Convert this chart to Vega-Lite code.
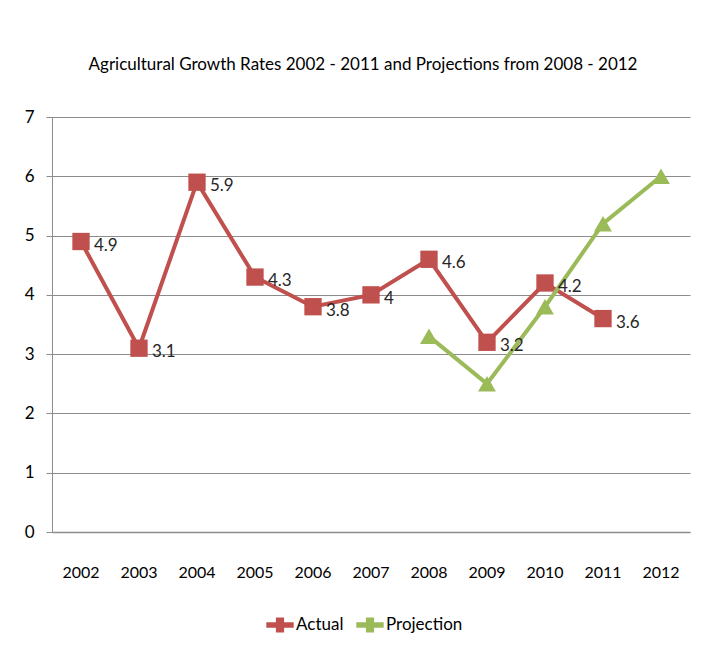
{
  "$schema": "https://vega.github.io/schema/vega-lite/v6.json",
  "width": 638,
  "height": 415,
  "autosize": {"type": "none"},
  "padding": {"left": 52, "top": 117, "right": 11, "bottom": 133},
  "background": "white",
  "title": {
    "text": "Agricultural Growth Rates 2002 - 2011 and Projections from 2008 - 2012",
    "font": "Lato",
    "fontSize": 17,
    "fontWeight": "normal",
    "color": "#000000",
    "anchor": "middle",
    "dx": -8,
    "offset": 34
  },
  "data": {
    "values": [
      {"year": "2002", "series": "Actual", "value": 4.9},
      {"year": "2003", "series": "Actual", "value": 3.1},
      {"year": "2004", "series": "Actual", "value": 5.9},
      {"year": "2005", "series": "Actual", "value": 4.3},
      {"year": "2006", "series": "Actual", "value": 3.8},
      {"year": "2007", "series": "Actual", "value": 4.0},
      {"year": "2008", "series": "Actual", "value": 4.6},
      {"year": "2009", "series": "Actual", "value": 3.2},
      {"year": "2010", "series": "Actual", "value": 4.2},
      {"year": "2011", "series": "Actual", "value": 3.6},
      {"year": "2008", "series": "Projection", "value": 3.3},
      {"year": "2009", "series": "Projection", "value": 2.5},
      {"year": "2010", "series": "Projection", "value": 3.8},
      {"year": "2011", "series": "Projection", "value": 5.2},
      {"year": "2012", "series": "Projection", "value": 6.0}
    ]
  },
  "encoding": {
    "x": {
      "field": "year",
      "type": "ordinal",
      "bandPosition": 0.5,
      "scale": {"type": "band", "paddingInner": 0, "paddingOuter": 0, "domain": ["2002","2003","2004","2005","2006","2007","2008","2009","2010","2011","2012"]},
      "axis": {
        "title": null,
        "labelAngle": 0,
        "labelFont": "Lato",
        "labelFontSize": 16,
        "labelColor": "#000000",
        "labelPadding": 32,
        "ticks": false,
        "domainColor": "#8c8c8c",
        "domainWidth": 1.5,
        "grid": false
      }
    },
    "y": {
      "field": "value",
      "type": "quantitative",
      "scale": {"domain": [0, 7], "nice": false},
      "axis": {
        "title": null,
        "values": [0,1,2,3,4,5,6,7],
        "labelFont": "Lato",
        "labelFontSize": 17,
        "labelColor": "#000000",
        "labelPadding": 12,
        "tickSize": 6,
        "tickColor": "#8c8c8c",
        "domainColor": "#8c8c8c",
        "grid": true,
        "gridColor": "#8c8c8c",
        "gridWidth": 1.2
      }
    },
    "color": {
      "field": "series",
      "type": "nominal",
      "scale": {"domain": ["Actual", "Projection"], "range": ["#C0504D", "#9BBB59"]},
      "legend": {
        "title": null,
        "orient": "none",
        "legendX": 214,
        "legendY": 494,
        "direction": "horizontal",
        "labelFont": "Lato",
        "labelFontSize": 17,
        "labelColor": "#000000",
        "symbolType": "M-1,-0.2H1V0.2H-1Z M-0.3,-0.55H0.3V0.55H-0.3Z",
        "symbolSize": 750,
        "symbolStrokeWidth": 0,
        "symbolOpacity": 1,
        "labelOffset": 2,
        "columnPadding": 12
      }
    }
  },
  "layer": [
    {
      "mark": {"type": "rule", "color": "#8c8c8c"},
      "data": {"values": [{"year": "2002"},{"year": "2003"},{"year": "2004"},{"year": "2005"},{"year": "2006"},{"year": "2007"},{"year": "2008"},{"year": "2009"},{"year": "2010"},{"year": "2011"},{"year": "2012"}]},
      "encoding": {
        "x": {"field": "year", "type": "ordinal", "bandPosition": 0},
        "y": {"datum": 0, "type": "quantitative"},
        "y2": {"datum": -0.12},
        "color": null
      }
    },
    {
      "mark": {"type": "line", "strokeWidth": 4},
      "encoding": {"detail": {"field": "series"}}
    },
    {
      "transform": [{"filter": "datum.series == 'Actual'"}],
      "mark": {"type": "point", "shape": "square", "filled": true, "opacity": 1, "size": 300}
    },
    {
      "transform": [{"filter": "datum.series == 'Projection'"}],
      "mark": {"type": "point", "shape": "triangle-up", "filled": true, "opacity": 1, "size": 320}
    },
    {
      "transform": [{"filter": "datum.series == 'Actual'"}],
      "mark": {"type": "text", "align": "left", "dx": 13, "dy": 4, "font": "Lato", "fontSize": 17, "color": "#262626"},
      "encoding": {"text": {"field": "value", "type": "quantitative"}, "color": {"value": "#262626"}}
    }
  ],
  "config": {"view": {"stroke": null}}
}
